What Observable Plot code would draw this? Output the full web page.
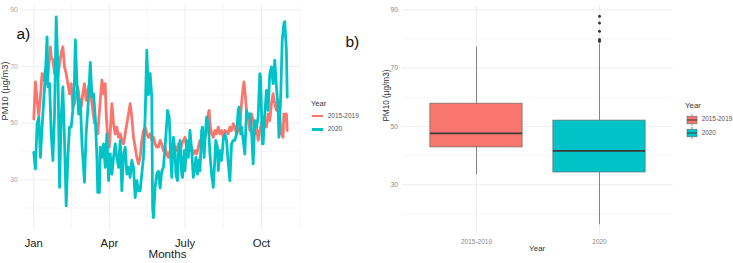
<!DOCTYPE html>
<html>
<head>
<meta charset="utf-8">
<script src="https://cdn.jsdelivr.net/npm/d3@7"></script>
<script src="https://cdn.jsdelivr.net/npm/@observablehq/plot@0.6"></script>
<style>
  body { margin: 0; background: #fff; }
  #wrap { position: relative; width: 733px; height: 263px; overflow: hidden; background: #fff;
          font-family: "Liberation Sans", Arial, sans-serif; }
  .panel { position: absolute; top: 0; }
  .t { position: absolute; white-space: nowrap; line-height: 1; }
</style>
</head>
<body>
<div id="wrap"></div>
<script>
// ---------------- DATA ----------------
const yearNames = ["2015-2019", "2020"];
const seriesColors = ["#F8766D", "#00C3C8"];

// Panel a): daily PM10 (µg/m3), day offset from 1 January
const days1519 = [0,2,4,6,8,10,12,14,16,18,20,21,23,25,27,29,31,33,35,37,39,41,43,45,47,49,51,53,55,57,59,61,63,65,67,69,71,73,75,77,80,82,84,86,87,89,91,94,96,98,100,102,104,106,108,110,112,114,116,118,120,122,124,126,128,130,132,134,136,138,140,142,144,146,148,150,152,154,156,158,160,162,164,166,168,170,172,174,176,178,180,182,184,186,188,190,192,194,196,198,200,202,204,206,208,210,211,212,214,216,218,220,222,224,226,228,230,232,234,236,238,240,242,244,246,248,250,252,253,255,256,258,260,262,264,266,268,270,272,274,276,278,280,282,284,286,288,290,292,294,296,298,300,301,303,304,305];
const pm1519 = [51.5,64.6,58.1,52.7,59.2,67.5,65.2,68.7,64.0,69.9,77.0,73.4,72.3,67.5,73.4,66.3,71.1,74.6,77.0,69.9,67.5,64.0,60.4,64.0,55.7,56.9,60.4,62.8,58.1,55.7,60.4,64.0,58.1,61.6,64.0,59.2,54.5,50.0,49.8,46.2,58.1,65.2,60.4,64.0,54.5,43.9,41.5,56.9,49.8,46.2,48.6,45.0,46.2,43.9,42.7,46.2,49.8,53.3,56.9,52.1,45.0,41.5,37.9,35.6,37.9,43.9,47.4,48.6,46.2,45.0,46.2,43.9,45.0,42.7,41.5,41.5,43.9,42.7,40.3,41.5,39.1,37.9,40.3,37.9,39.1,41.5,40.3,42.7,39.1,42.7,43.9,45.0,41.5,42.7,40.3,41.5,39.1,40.3,39.1,41.5,43.9,42.7,46.2,45.0,47.4,53.3,54.5,49.8,46.2,45.0,47.4,46.2,48.6,46.2,47.4,45.0,47.4,47.0,46.2,48.6,47.4,49.8,48.6,46.2,47.4,48.6,56.9,62.8,64.6,58.1,54.5,52.1,47.4,53.3,50.9,46.2,48.6,43.9,47.4,49.8,52.1,50.9,48.6,53.3,50.9,56.9,60.4,56.9,54.5,58.1,52.1,46.2,45.0,53.3,50.9,53.3,47.4];

const days2020 = [0,2,4,6,8,10,12,14,16,17,19,21,23,25,27,29,31,33,35,37,39,41,43,45,47,49,50,52,54,56,58,61,63,65,67,68,70,72,74,76,77,79,80,82,84,86,88,90,92,94,96,98,100,102,104,106,108,110,112,114,116,118,120,122,124,126,128,130,132,134,136,138,140,142,143,144,146,148,150,152,154,156,158,160,161,163,165,166,168,170,171,173,174,176,178,179,181,182,184,186,188,190,192,194,195,197,198,200,202,203,205,206,208,210,212,214,216,218,219,221,222,224,226,228,230,232,234,236,238,240,242,244,246,247,249,250,252,254,256,258,260,262,264,266,268,270,272,273,275,276,278,280,282,284,286,288,290,292,294,295,297,298,299,301,302,304,305];
const pm2020 = [39.7,33.8,49.8,52.1,37.9,48.6,58.1,67.5,80.5,62.8,64.0,46.2,36.8,53.3,87.6,69.9,27.3,52.1,62.8,43.8,20.8,37.9,48.6,48.6,54.5,65.2,79.4,64.0,53.3,58.1,42.7,29.1,46.2,54.5,65.2,71.5,59.2,60.4,52.1,37.9,25.5,25.5,41.5,37.9,42.7,34.4,46.2,29.7,39.1,32.0,37.9,42.7,37.9,34.4,43.9,26.1,39.1,41.5,32.0,34.4,30.8,36.8,34.4,23.7,29.7,26.1,26.1,32.0,37.9,52.1,75.8,60.0,67.5,59.2,20.2,16.6,27.3,32.0,33.0,27.0,33.0,34.4,41.5,49.8,54.5,52.1,36.8,30.8,45.0,40.3,32.0,29.7,39.1,43.9,32.0,30.8,40.3,33.2,43.9,37.9,47.4,40.3,30.8,34.4,37.9,32.0,36.8,33.2,47.4,48.6,37.9,43.9,52.1,49.8,39.1,32.0,27.3,37.9,43.9,41.5,33.2,40.3,36.8,43.9,46.2,43.9,36.0,29.7,42.7,43.9,43.9,46.2,54.5,55.7,46.2,48.6,43.9,39.1,54.5,52.1,53.3,47.4,35.6,50.9,48.6,52.1,67.5,66.3,42.7,42.7,53.3,61.6,54.5,67.5,69.9,64.0,72.3,62.8,55.7,45.0,58.1,68.7,79.4,85.3,85.9,75.8,59.2];

const monthTicks = [0, 91, 182, 274];          // 1 Jan, 1 Apr, 1 Jul, 1 Oct
const monthLabels = ["Jan", "Apr", "July", "Oct"];
const monthMinor = [45.5, 136.5, 228, 320];
const yMajor = [30, 50, 70, 90];
const yMinor = [20, 40, 60, 80];

// Panel b): box plot statistics
const boxYears = ["2015-2019", "2020"];
const boxLower = [33.4, 16.3];
const boxQ1 = [42.8, 34.2];
const boxMedian = [47.6, 41.6];
const boxQ3 = [57.8, 52.0];
const boxUpper = [77.2, 78.3];
const outlierYear = ["2020", "2020", "2020", "2020", "2020"];
const outlierPM = [87.8, 85.5, 82.6, 79.8, 79.2];

// ---------------- BUILD ----------------
const base = Date.UTC(2020, 0, 1), DAY = 864e5;
const toDate = d => new Date(base + d * DAY);
const lineData = [
  ...days1519.map((d, i) => ({date: toDate(d), pm: pm1519[i], year: yearNames[0]})),
  ...days2020.map((d, i) => ({date: toDate(d), pm: pm2020[i], year: yearNames[1]}))
];
const tickDates = monthTicks.map(toDate);
const labelOf = new Map(tickDates.map((d, i) => [+d, monthLabels[i]]));
const font = "Liberation Sans, Arial, sans-serif";

const left = Plot.plot({
  width: 300, height: 263,
  marginLeft: 20.6, marginRight: 0.6, marginTop: 5, marginBottom: 34,
  style: {fontFamily: font, background: "transparent", overflow: "visible"},
  x: {type: "utc", domain: [toDate(-15.25), toDate(320.25)]},
  y: {domain: [12.4, 91.6]},
  color: {domain: yearNames, range: seriesColors},
  marks: [
    Plot.ruleY(yMinor, {stroke: "#f4f4f4", strokeWidth: 0.7}),
    Plot.ruleY(yMajor, {stroke: "#ececec", strokeWidth: 0.9}),
    Plot.ruleX(monthMinor.map(toDate), {stroke: "#f4f4f4", strokeWidth: 0.7}),
    Plot.ruleX(tickDates, {stroke: "#ececec", strokeWidth: 0.9}),
    Plot.lineY(lineData, {x: "date", y: "pm", z: "year", stroke: "year", strokeWidth: 2.8, strokeLinejoin: "round"}),
    Plot.axisY(yMajor, {tickSize: 0, tickPadding: 3.3, fontSize: 6.8, fill: "#a8a8a8", label: null}),
    Plot.axisX(tickDates, {tickSize: 0, tickPadding: 9.2, fontSize: 11.3, fill: "#222", label: null,
      tickFormat: d => labelOf.get(+d)}),
    Plot.text(["PM10 (µg/m3)"], {frameAnchor: "left", rotate: -90, dx: -15.6, dy: 3, fontSize: 9.3, fill: "#333"}),
    Plot.text(["Months"], {frameAnchor: "bottom", dx: 7, dy: 28.6, fontSize: 11.6, fill: "#222"})
  ]
});
left.classList.add("panel");
left.style.left = "0px";

const boxData = boxYears.map((y, i) => ({
  year: y, pos: i + 1, lower: boxLower[i], q1: boxQ1[i], median: boxMedian[i], q3: boxQ3[i], upper: boxUpper[i]
}));
const outliers = outlierYear.map((y, i) => ({year: y, pos: boxYears.indexOf(y) + 1, pm: outlierPM[i]}));
const halfBox = 0.375;

const right = Plot.plot({
  width: 310, height: 263,
  marginLeft: 32.2, marginRight: 7.2, marginTop: 5.2, marginBottom: 28,
  style: {fontFamily: font, background: "transparent", overflow: "visible"},
  x: {domain: [0.4, 2.6]},
  y: {domain: [12.6, 91.4]},
  color: {domain: yearNames, range: seriesColors},
  marks: [
    Plot.ruleY(yMinor, {stroke: "#f4f4f4", strokeWidth: 0.7}),
    Plot.ruleY(yMajor, {stroke: "#ececec", strokeWidth: 0.9}),
    Plot.ruleX(boxData, {x: "pos", stroke: "#ececec", strokeWidth: 0.9}),
    Plot.ruleX(boxData, {x: "pos", y1: "lower", y2: "upper", stroke: "#777", strokeWidth: 0.9}),
    Plot.rectY(boxData, {x1: d => d.pos - halfBox, x2: d => d.pos + halfBox, y1: "q1", y2: "q3",
      fill: "year", stroke: "#6a6a6a", strokeWidth: 0.7}),
    Plot.ruleY(boxData, {x1: d => d.pos - halfBox, x2: d => d.pos + halfBox, y: "median", stroke: "#3a3a3a", strokeWidth: 1.8}),
    Plot.dot(outliers, {x: "pos", y: "pm", r: 1.5, fill: "#333", stroke: null}),
    Plot.axisY(yMajor, {tickSize: 0, tickPadding: 4.7, fontSize: 6.8, fill: "#8a8a8a", label: null}),
    Plot.axisX([1, 2], {tickSize: 0, tickPadding: 4, fontSize: 6.5, fill: "#8a8a8a", label: null,
      tickFormat: d => boxYears[d - 1]}),
    Plot.text(["PM10 (µg/m3)"], {frameAnchor: "left", rotate: -90, dx: -16.7, dy: 1, fontSize: 8.2, fill: "#333"}),
    Plot.text(["Year"], {frameAnchor: "bottom", dx: -0.8, dy: 15.7, fontSize: 8, fill: "#333"})
  ]
});
right.classList.add("panel");
right.style.left = "370px";

const wrap = document.getElementById("wrap");
wrap.appendChild(left);
wrap.appendChild(right);

function addText(txt, x, cy, size, color) {
  const el = document.createElement("div");
  el.className = "t";
  el.textContent = txt;
  el.style.left = x + "px";
  el.style.top = (cy - size / 2) + "px";
  el.style.fontSize = size + "px";
  el.style.color = color;
  wrap.appendChild(el);
  return el;
}
// panel tags
addText("a)", 16.5, 33.5, 15.5, "#111");
addText("b)", 345.5, 42, 15.5, "#111");

// legend a)
addText("Year", 311, 103.5, 7.6, "#333");
yearNames.forEach((name, i) => {
  const cy = 116 + i * 13.3;
  const key = document.createElement("div");
  key.style.cssText = `position:absolute;left:312.3px;top:${cy - 1.35}px;width:10.4px;height:2.7px;background:${seriesColors[i]};`;
  wrap.appendChild(key);
  addText(name, 327.7, cy, 6.5, "#555");
});

// legend b)
addText("Year", 685, 106, 7.9, "#333");
yearNames.forEach((name, i) => {
  const cy = 119.5 + i * 13.3;
  const ns = "http://www.w3.org/2000/svg";
  const s = document.createElementNS(ns, "svg");
  s.setAttribute("width", 12); s.setAttribute("height", 12);
  s.style.cssText = `position:absolute;left:685.7px;top:${cy - 6}px;`;
  s.innerHTML = `<line x1="6" x2="6" y1="0" y2="12" stroke="#6a6a6a" stroke-width="0.7"/>
    <rect x="1" y="2.2" width="10" height="7.6" fill="${seriesColors[i]}" stroke="#6a6a6a" stroke-width="0.6"/>
    <line x1="1" x2="11" y1="6" y2="6" stroke="#3a3a3a" stroke-width="1"/>`;
  wrap.appendChild(s);
  addText(name, 701.7, cy, 6.4, "#555");
});
</script>
</body>
</html>
